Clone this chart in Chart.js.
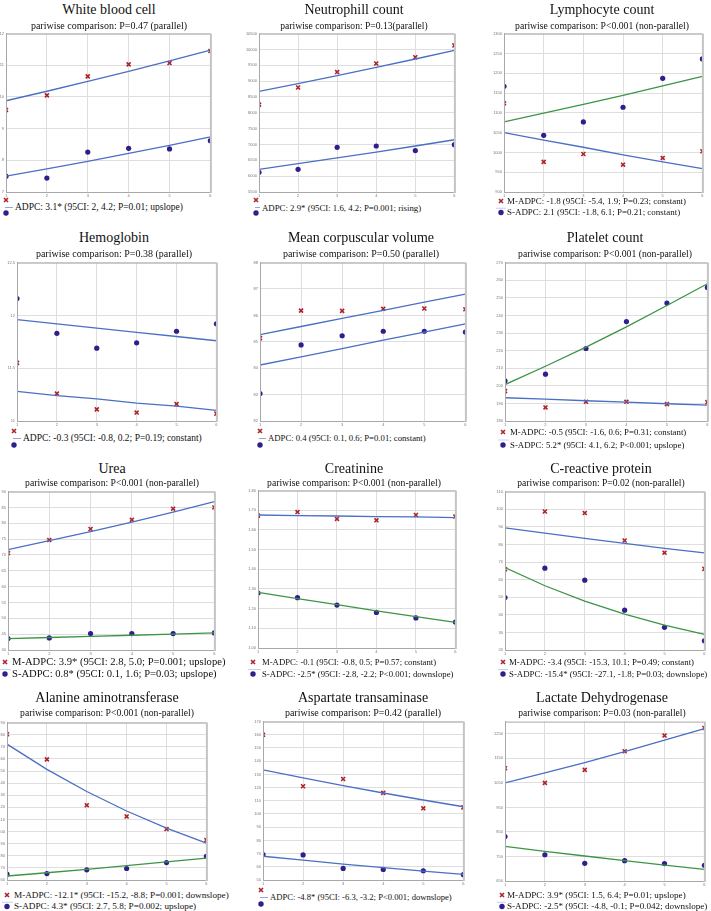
<!DOCTYPE html>
<html>
<head>
<meta charset="utf-8">
<script src="https://cdn.jsdelivr.net/npm/chart.js@4.4.1/dist/chart.umd.min.js"></script>
<style>
  html, body { margin: 0; padding: 0; background: #fff; }
  #page { position: relative; width: 711px; height: 911px; overflow: hidden; background: #fff; }
  .txt { position: absolute; white-space: nowrap; font-family: "Liberation Serif", "DejaVu Serif", serif; color: #111; }
  canvas { position: absolute; }
</style>
</head>
<body>
<div id="page"></div>
<script>
// visit index on the x axis
const visits = [1, 2, 3, 4, 5, 6];

// White blood cell
const wbcCross = [9.59, 10.05, 10.65, 11.03, 11.07, 11.45];
const wbcDot = [7.50, 7.44, 8.26, 8.38, 8.36, 8.62];
const wbcCrossFit = [9.88, 10.18, 10.49, 10.81, 11.14, 11.48];
const wbcDotFit = [7.50, 7.73, 7.97, 8.22, 8.47, 8.74];
const wbcTicks = ['7', '8', '9', '10', '11', '12'];
const wbcRange = [7, 12];

// Neutrophill count
const neuCross = [8259, 8799, 9286, 9556, 9753, 10127];
const neuDot = [6122, 6216, 6911, 6952, 6807, 6994];
const neuCrossFit = [8674, 8920, 9172, 9431, 9698, 9971];
const neuDotFit = [6216, 6393, 6574, 6760, 6952, 7149];
const neuTicks = ['5500', '6000', '6500', '7000', '7500', '8000', '8500', '9000', '9500', '10000', '10500'];
const neuRange = [5500, 10500];

// Lymphocyte count
const lymCross = [1124, 976, 996, 969, 986, 1003];
const lymDot = [1167, 1043, 1077, 1114, 1187, 1236];
const lymCrossFit = [1050, 1031, 1013, 994, 976, 959];
const lymDotFit = [1077, 1099, 1121, 1144, 1168, 1192];
const lymTicks = ['900', '950', '1000', '1050', '1100', '1150', '1200', '1250', '1300'];
const lymRange = [900, 1300];

// Hemoglobin
const hbCross = [11.55, 11.26, 11.11, 11.08, 11.16, 11.07];
const hbDot = [12.16, 11.83, 11.69, 11.74, 11.85, 11.92];
const hbCrossFit = [11.28, 11.24, 11.21, 11.17, 11.14, 11.10];
const hbDotFit = [11.96, 11.92, 11.88, 11.84, 11.80, 11.76];
const hbTicks = ['11', '11.5', '12', '12.5'];
const hbRange = [11, 12.5];

// Mean corpuscular volume
const mcvCross = [85.14, 86.18, 86.17, 86.25, 86.26, 86.23];
const mcvDot = [83.04, 84.88, 85.23, 85.40, 85.40, 85.37];
const mcvCrossFit = [85.27, 85.58, 85.89, 86.19, 86.50, 86.81];
const mcvDotFit = [84.12, 84.43, 84.74, 85.06, 85.37, 85.68];
const mcvTicks = ['82', '83', '84', '85', '86', '87', '88'];
const mcvRange = [82, 88];

// Platelet count
const pltCross = [197.0, 187.7, 190.9, 190.9, 189.6, 190.7];
const pltDot = [202.8, 206.6, 221.2, 236.5, 247.0, 255.9];
const pltCrossFit = [193.2, 192.4, 191.5, 190.7, 189.8, 189.0];
const pltDotFit = [200.7, 211.1, 222.0, 233.5, 245.6, 258.0];
const pltTicks = ['180', '190', '200', '210', '220', '230', '240', '250', '260', '270'];
const pltRange = [180, 270];

// Urea
const ureaCross = [70.6, 74.7, 78.2, 81.1, 84.6, 85.0];
const ureaDot = [43.6, 43.8, 45.2, 45.2, 45.2, 45.4];
const ureaCrossFit = [71.7, 74.5, 77.4, 80.4, 83.5, 86.8];
const ureaDotFit = [43.6, 43.95, 44.3, 44.65, 45.0, 45.4];
const ureaTicks = ['40', '45', '50', '55', '60', '65', '70', '75', '80', '85', '90'];
const ureaRange = [40, 90];

// Creatinine
const creaCross = [1.673, 1.691, 1.656, 1.649, 1.676, 1.668];
const creaDot = [1.279, 1.256, 1.218, 1.181, 1.153, 1.132];
const creaCrossFit = [1.676, 1.673, 1.671, 1.668, 1.666, 1.663];
const creaDotFit = [1.283, 1.251, 1.220, 1.189, 1.159, 1.130];
const creaTicks = ['1.00', '1.10', '1.20', '1.30', '1.40', '1.50', '1.60', '1.70', '1.80'];
const creaRange = [1.0, 1.8];

// C-reactive protein
const crpCross = [65.9, 98.7, 97.8, 82.2, 75.3, 66.1];
const crpDot = [49.8, 66.5, 59.7, 42.6, 32.9, 25.2];
const crpCrossFit = [89.4, 86.4, 83.4, 80.6, 77.8, 75.2];
const crpDotFit = [66.8, 56.5, 47.8, 40.4, 34.2, 28.9];
const crpTicks = ['20', '30', '40', '50', '60', '70', '80', '90', '100', '110'];
const crpRange = [20, 110];

// Alanine aminotransferase
const altCross = [180.4, 159.6, 121.8, 112.5, 102.1, 93.0];
const altDot = [64.8, 65.3, 68.4, 69.5, 74.4, 79.5];
const altCrossFit = [172.2, 151.4, 133.1, 117.0, 102.8, 90.4];
const altDotFit = [63.3, 66.0, 68.8, 71.8, 74.9, 78.1];
const altTicks = ['60', '70', '80', '90', '100', '110', '120', '130', '140', '150', '160', '170', '180', '190'];
const altRange = [60, 190];

// Aspartate transaminase
const astCross = [160.0, 121.0, 126.5, 116.0, 104.3, 105.0];
const astDot = [69.3, 69.0, 58.8, 58.0, 57.0, 54.0];
const astCrossFit = [133.5, 127.4, 121.5, 115.9, 110.6, 105.5];
const astDotFit = [68.0, 65.0, 62.1, 59.4, 56.8, 54.3];
const astTicks = ['50', '60', '70', '80', '90', '100', '110', '120', '130', '140', '150', '160', '170'];
const astRange = [50, 170];

// Lactate Dehydrogenase
const ldhCross = [1110, 1050, 1103, 1179, 1243, 1274];
const ldhDot = [831, 757, 722, 733, 721, 714];
const ldhCrossFit = [1050, 1091, 1133, 1178, 1224, 1271];
const ldhDotFit = [791, 771, 752, 733, 715, 697];
const ldhTicks = ['650', '750', '850', '950', '1050', '1150', '1250'];
const ldhRange = [650, 1300];

const panels = [
  { title: 'White blood cell', sub: 'pariwise comparison: P=0.47 (parallel)', cross: wbcCross, dot: wbcDot, crossFit: wbcCrossFit, dotFit: wbcDotFit, ticks: wbcTicks, range: wbcRange, parallel: true,
    legend: ['ADPC: 3.1* (95CI: 2, 4.2; P=0.01; upslope)'] },
  { title: 'Neutrophill count', sub: 'pariwise comparison: P=0.13(parallel)', cross: neuCross, dot: neuDot, crossFit: neuCrossFit, dotFit: neuDotFit, ticks: neuTicks, range: neuRange, parallel: true,
    legend: ['ADPC: 2.9* (95CI: 1.6, 4.2; P=0.001; rising)'] },
  { title: 'Lymphocyte count', sub: 'pariwise comparison: P<0.001 (non-parallel)', cross: lymCross, dot: lymDot, crossFit: lymCrossFit, dotFit: lymDotFit, ticks: lymTicks, range: lymRange, parallel: false,
    legend: ['M-ADPC: -1.8 (95CI: -5.4, 1.9; P=0.23; constant)', 'S-ADPC: 2.1 (95CI: -1.8, 6.1; P=0.21; constant)'] },
  { title: 'Hemoglobin', sub: 'pariwise comparison: P=0.38 (parallel)', cross: hbCross, dot: hbDot, crossFit: hbCrossFit, dotFit: hbDotFit, ticks: hbTicks, range: hbRange, parallel: true,
    legend: ['ADPC: -0.3 (95CI: -0.8, 0.2; P=0.19; constant)'] },
  { title: 'Mean corpuscular volume', sub: 'pariwise comparison: P=0.50 (parallel)', cross: mcvCross, dot: mcvDot, crossFit: mcvCrossFit, dotFit: mcvDotFit, ticks: mcvTicks, range: mcvRange, parallel: true,
    legend: ['ADPC: 0.4 (95CI: 0.1, 0.6; P=0.01; constant)'] },
  { title: 'Platelet count', sub: 'pariwise comparison: P<0.001 (non-parallel)', cross: pltCross, dot: pltDot, crossFit: pltCrossFit, dotFit: pltDotFit, ticks: pltTicks, range: pltRange, parallel: false,
    legend: ['M-ADPC: -0.5 (95CI: -1.6, 0.6; P=0.31; constant)', 'S-ADPC: 5.2* (95CI: 4.1, 6.2; P<0.001; upslope)'] },
  { title: 'Urea', sub: 'pariwise comparison: P<0.001 (non-parallel)', cross: ureaCross, dot: ureaDot, crossFit: ureaCrossFit, dotFit: ureaDotFit, ticks: ureaTicks, range: ureaRange, parallel: false,
    legend: ['M-ADPC: 3.9* (95CI: 2.8, 5.0; P=0.001; upslope)', 'S-ADPC: 0.8* (95CI: 0.1, 1.6; P=0.03; upslope)'] },
  { title: 'Creatinine', sub: 'pariwise comparison: P<0.001 (non-parallel)', cross: creaCross, dot: creaDot, crossFit: creaCrossFit, dotFit: creaDotFit, ticks: creaTicks, range: creaRange, parallel: false,
    legend: ['M-ADPC: -0.1 (95CI: -0.8, 0.5; P=0.57; constant)', 'S-ADPC: -2.5* (95CI: -2.8, -2.2; P<0.001; downslope)'] },
  { title: 'C-reactive protein', sub: 'pariwise comparison: P=0.02 (non-parallel)', cross: crpCross, dot: crpDot, crossFit: crpCrossFit, dotFit: crpDotFit, ticks: crpTicks, range: crpRange, parallel: false,
    legend: ['M-ADPC: -3.4 (95CI: -15.3, 10.1; P=0.49; constant)', 'S-ADPC: -15.4* (95CI: -27.1, -1.8; P=0.03; downslope)'] },
  { title: 'Alanine aminotransferase', sub: 'pariwise comparison: P<0.001 (non-parallel)', cross: altCross, dot: altDot, crossFit: altCrossFit, dotFit: altDotFit, ticks: altTicks, range: altRange, parallel: false,
    legend: ['M-ADPC: -12.1* (95CI: -15.2, -8.8; P=0.001; downslope)', 'S-ADPC: 4.3* (95CI: 2.7, 5.8; P=0.002; upslope)'] },
  { title: 'Aspartate transaminase', sub: 'pariwise comparison: P=0.42 (parallel)', cross: astCross, dot: astDot, crossFit: astCrossFit, dotFit: astDotFit, ticks: astTicks, range: astRange, parallel: true,
    legend: ['ADPC: -4.8* (95CI: -6.3, -3.2; P<0.001; downslope)'] },
  { title: 'Lactate Dehydrogenase', sub: 'pariwise comparison: P=0.03 (non-parallel)', cross: ldhCross, dot: ldhDot, crossFit: ldhCrossFit, dotFit: ldhDotFit, ticks: ldhTicks, range: ldhRange, parallel: false,
    legend: ['M-ADPC: 3.9* (95CI: 1.5, 6.4; P=0.01; upslope)', 'S-ADPC: -2.5* (95CI: -4.8, -0.1; P=0.042; downslope)'] },
];

// plot boxes: left, top, right, bottom, title centre x, title baseline, subtitle baseline, legend row
const boxes = [
  [6, 32, 212, 192, 109, 14.5, 29, 0],
  [259, 32, 456, 192, 354, 14.5, 29, 0],
  [504, 32, 704, 192, 602, 14.5, 29, 0],
  [17, 261, 218, 421, 114, 242.5, 257, 1],
  [260, 261, 467, 421, 361, 242.5, 257, 1],
  [505, 261, 709, 421, 605, 242.5, 257, 1],
  [8, 490, 216, 650, 112, 473.5, 486, 2],
  [258, 489, 457, 648, 354, 473.5, 486, 2],
  [505, 490, 706, 650, 601, 473.5, 486, 2],
  [7, 721, 208, 880, 107, 703, 716.5, 3],
  [263, 720, 465, 880, 363, 703, 716.5, 3],
  [505, 720, 706, 881, 602, 703, 716.5, 3],
];
// font sizes per panel: subtitle, legend
const textSizes = [
  [10, 9.5], [9.6, 8.8], [9.7, 8.95],
  [10, 9.5], [10, 8.7], [9.7, 8.8],
  [9.7, 10.6], [9.7, 8.7], [9.6, 8.8],
  [9.7, 9.2], [10, 8.6], [9.6, 9.1],
];
// legend marker x, text x
const legendX = [[6, 15], [256, 262], [501, 507], [14, 23], [260, 268], [503, 510], [5, 12], [253, 262], [503, 509], [7, 14], [261, 270], [502, 507]];
// parallel: cross y, line y, text baseline, dot y ; non-parallel: cross y, baseline 1, dot y, baseline 2
const legendParY = [[200, 207, 211, 213], [431, 438, 441.5, 445], [662, 668, 671, 674], [890, 897, 900.5, 904]];
const legendNonY = [[201, 204.5, 212.5, 215.5], [432, 435, 445, 448], [662, 665.5, 674, 677.5], [895, 898.5, 906.5, 910]];

const RED = '#ad2429';
const DOT = '#2f1f8c';
const BLUE = '#4a6fc4';
const GREEN = '#3d9447';
const SERIF_BASE = 0.8375;

const page = document.getElementById('page');

function addText(str, size, x, baseline, centre) {
  const d = document.createElement('div');
  d.className = 'txt';
  d.textContent = str;
  d.style.fontSize = size + 'px';
  d.style.lineHeight = size + 'px';
  d.style.top = (baseline - SERIF_BASE * size) + 'px';
  d.style.left = x + 'px';
  if (centre) d.style.transform = 'translateX(-50%)';
  page.appendChild(d);
}

const frame = {
  id: 'frame',
  afterDraw(chart) {
    const { ctx, chartArea: a } = chart;
    ctx.save();
    ctx.strokeStyle = '#a8a8a8';
    ctx.lineWidth = 1;
    ctx.beginPath();
    ctx.moveTo(a.left + 0.5, a.bottom + 0.5);
    ctx.lineTo(a.left + 0.5, a.top + 0.5);
    ctx.lineTo(a.right, a.top + 0.5);
    ctx.moveTo(a.left, a.bottom + 0.5);
    ctx.lineTo(a.right, a.bottom + 0.5);
    ctx.stroke();
    ctx.strokeStyle = '#c4c4c4';
    ctx.lineWidth = 2;
    ctx.beginPath();
    ctx.moveTo(a.right + 0.5, a.top);
    ctx.lineTo(a.right + 0.5, a.bottom + 1);
    ctx.stroke();
    ctx.restore();
  }
};

const YW = 26, PT = 4, PR = 4, XH = 8;

panels.forEach((p, k) => {
  const [L, T, R, B, tx, tb, sb, row] = boxes[k];
  const [subSize, legSize] = textSizes[k];
  const cv = document.createElement('canvas');
  const w = (R - L) + YW + PR, h = (B - T) + PT + XH;
  cv.width = w; cv.height = h;
  cv.style.left = (L - YW) + 'px';
  cv.style.top = (T - PT) + 'px';
  cv.style.width = w + 'px';
  cv.style.height = h + 'px';
  page.appendChild(cv);

  const pts = arr => visits.map((x, i) => ({ x: x, y: arr[i] }));
  const tickVals = p.ticks.map(s => parseFloat(s));

  new Chart(cv, {
    type: 'scatter',
    data: {
      datasets: [
        { data: pts(p.crossFit), showLine: true, borderColor: BLUE, borderWidth: 1.3, pointRadius: 0, fill: false },
        { data: pts(p.dotFit), showLine: true, borderColor: p.parallel ? BLUE : GREEN, borderWidth: 1.3, pointRadius: 0, fill: false },
        { data: pts(p.cross), pointStyle: 'crossRot', pointRadius: 2.8, borderColor: RED, borderWidth: 1.6, backgroundColor: RED },
        { data: pts(p.dot), pointStyle: 'circle', pointRadius: 2.6, borderWidth: 0, backgroundColor: DOT, borderColor: DOT },
      ]
    },
    options: {
      responsive: false,
      animation: false,
      layout: { padding: { top: PT, right: PR, left: 0, bottom: 0 } },
      plugins: { legend: { display: false }, tooltip: { enabled: false } },
      scales: {
        x: {
          type: 'linear', min: 1, max: 6,
          ticks: { stepSize: 1, font: { size: 4, family: 'Liberation Sans' }, color: '#777', padding: 1, autoSkip: false },
          grid: { color: '#dedede', drawTicks: false },
          border: { color: '#a8a8a8' },
          afterFit: s => { s.height = XH; }
        },
        y: {
          type: 'linear', min: p.range[0], max: p.range[1],
          afterBuildTicks: s => { s.ticks = tickVals.map(v => ({ value: v })); },
          ticks: {
            font: { size: 4, family: 'Liberation Sans' }, color: '#777', padding: 2, autoSkip: false,
            callback: v => { const i = tickVals.findIndex(t => Math.abs(t - v) < 1e-9); return i < 0 ? '' : p.ticks[i]; }
          },
          grid: { color: '#dedede', drawTicks: false },
          border: { color: '#a8a8a8' },
          afterFit: s => { s.width = YW; }
        }
      }
    },
    plugins: [frame]
  });

  addText(p.title, 14, tx, tb, true);
  addText(p.sub, subSize, tx, sb, true);

  const txx = legendX[k][1];
  if (p.parallel) {
    const ly = legendParY[row];
    addText(p.legend[0], legSize, txx, ly[2], false);
  } else {
    const ly = legendNonY[row];
    addText(p.legend[0], legSize, txx, ly[1], false);
    addText(p.legend[1], legSize, txx, ly[3], false);
  }
});

// legend symbols
const ov = document.createElement('canvas');
ov.width = 711; ov.height = 911;
ov.style.left = '0px'; ov.style.top = '0px';
page.appendChild(ov);
const g = ov.getContext('2d');
function cross(x, y) {
  g.strokeStyle = RED; g.lineWidth = 1.6;
  g.beginPath();
  g.moveTo(x - 2, y - 2); g.lineTo(x + 2, y + 2);
  g.moveTo(x + 2, y - 2); g.lineTo(x - 2, y + 2);
  g.stroke();
}
function dot(x, y) {
  g.fillStyle = DOT;
  g.beginPath(); g.arc(x, y, 2.7, 0, Math.PI * 2); g.fill();
}
function seg(x1, x2, y, col) {
  g.strokeStyle = col; g.lineWidth = 1;
  g.beginPath(); g.moveTo(x1, y + 0.5); g.lineTo(x2, y + 0.5); g.stroke();
}
panels.forEach((p, k) => {
  const row = boxes[k][7];
  const [mx, txx] = legendX[k];
  if (p.parallel) {
    const ly = legendParY[row];
    cross(mx, ly[0]);
    seg(mx - 1, txx - 2, ly[1], '#8ea6db');
    dot(mx, ly[3]);
  } else {
    const ly = legendNonY[row];
    cross(mx, ly[0]);
    seg(mx - 5, txx - 1, (ly[0] + ly[2]) / 2 + 1, '#c5d2ee');
    dot(mx, ly[2]);
  }
});
</script>
</body>
</html>
